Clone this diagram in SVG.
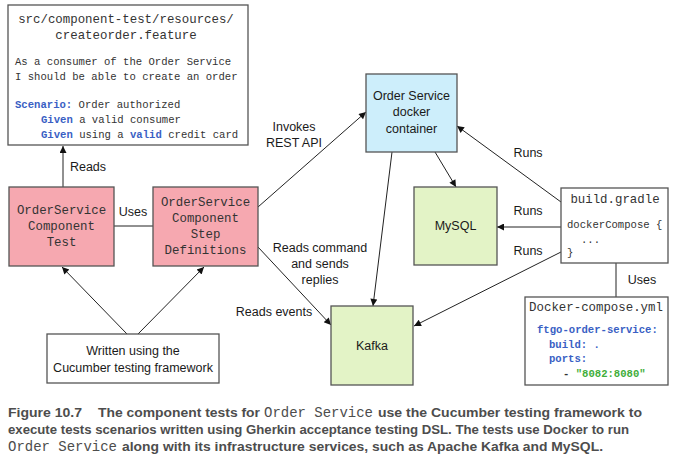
<svg xmlns="http://www.w3.org/2000/svg" width="691" height="472" viewBox="0 0 691 472">
<style>
.box{stroke:#555;stroke-width:1.3}
.w{fill:#fff}
.pink{fill:#f6a8b0}
.blue{fill:#cdeefb}
.green{fill:#e3f3c6}
.sans{font-family:"Liberation Sans",Arial,sans-serif;font-size:12.5px;fill:#1a1a1a}
.mono{font-family:"Liberation Mono","Courier New",monospace;font-size:12.4px;fill:#333}
.code{font-family:"Liberation Mono","Courier New",monospace;font-size:10.6px;fill:#333}
.kw{font-weight:bold;fill:#3a5fc4}
.str{font-weight:bold;fill:#3fae3a}
.mid{text-anchor:middle}
.line{stroke:#222;stroke-width:1;fill:none}
.arr{marker-end:url(#ah)}
.cap{font-family:"Liberation Sans",Arial,sans-serif;font-weight:bold;font-size:13.6px;fill:#4d4d4d}
.capm{font-family:"Liberation Mono","Courier New",monospace;font-size:14px;fill:#4d4d4d}
</style>
<defs>
<marker id="ah" viewBox="0 0 10 10" refX="10" refY="5" markerWidth="9" markerHeight="7" markerUnits="userSpaceOnUse" orient="auto">
<path d="M0,0 L10,5 L0,10 z" fill="#111"/>
</marker>
</defs>
<rect width="691" height="472" fill="#fff"/>

<g id="connectors">
<line class="line arr" x1="63" y1="187" x2="63" y2="146"/>
<line class="line" x1="114" y1="226" x2="153" y2="226"/>
<line class="line arr" x1="127" y1="334" x2="62" y2="267"/>
<line class="line arr" x1="138" y1="334" x2="204" y2="267"/>
<line class="line arr" x1="258" y1="207" x2="366" y2="112"/>
<line class="line arr" x1="258" y1="247" x2="331" y2="325"/>
<line class="line arr" x1="392" y1="152" x2="373" y2="306"/>
<line class="line arr" x1="435" y1="152" x2="456" y2="187"/>
<line class="line arr" x1="561" y1="202" x2="457" y2="126"/>
<line class="line arr" x1="561" y1="227" x2="497" y2="227"/>
<line class="line arr" x1="561" y1="252" x2="414" y2="326"/>
<line class="line" x1="616" y1="263" x2="616" y2="297"/>
<text class="sans mid" x="88" y="171">Reads</text>
<text class="sans mid" x="133" y="216">Uses</text>
<text class="sans mid" x="294" y="131">Invokes</text>
<text class="sans mid" x="294" y="147">REST API</text>
<text class="sans mid" x="320" y="252">Reads command</text>
<text class="sans mid" x="320" y="268">and sends</text>
<text class="sans mid" x="320" y="284">replies</text>
<text class="sans mid" x="274" y="316">Reads events</text>
<text class="sans mid" x="528" y="157">Runs</text>
<text class="sans mid" x="528" y="215">Runs</text>
<text class="sans mid" x="528" y="255">Runs</text>
<text class="sans mid" x="642" y="284">Uses</text>
</g>

<g id="feature">
<rect class="box w" x="8" y="5" width="240" height="140"/>
<text class="mono mid" x="126" y="23">src/component-test/resources/</text>
<text class="mono mid" x="126" y="39">createorder.feature</text>
<text class="code" x="15" y="65">As a consumer of the Order Service</text>
<text class="code" x="15" y="80">I should be able to create an order</text>
<text class="code" x="15" y="108"><tspan class="kw">Scenario:</tspan> Order authorized</text>
<text class="code" x="41" y="123"><tspan class="kw">Given</tspan> a valid consumer</text>
<text class="code" x="41" y="138"><tspan class="kw">Given</tspan> using a <tspan class="kw">valid</tspan> credit card</text>
</g>

<g id="component-test">
<rect class="box pink" x="9" y="187" width="105" height="79"/>
<text class="mono mid" x="61.5" y="214">OrderService</text>
<text class="mono mid" x="61.5" y="230">Component</text>
<text class="mono mid" x="61.5" y="246">Test</text>
</g>

<g id="step-definitions">
<rect class="box pink" x="153" y="187" width="105" height="79"/>
<text class="mono mid" x="205.5" y="206">OrderService</text>
<text class="mono mid" x="205.5" y="222">Component</text>
<text class="mono mid" x="205.5" y="238">Step</text>
<text class="mono mid" x="205.5" y="254">Definitions</text>
</g>

<g id="cucumber">
<rect class="box w" x="47" y="334" width="172" height="49"/>
<text class="sans mid" x="133" y="355">Written using the</text>
<text class="sans mid" x="133" y="372">Cucumber testing framework</text>
</g>

<g id="order-service-container">
<rect class="box blue" x="366" y="74" width="91" height="78"/>
<text class="sans mid" x="411.5" y="100">Order Service</text>
<text class="sans mid" x="411.5" y="116">docker</text>
<text class="sans mid" x="411.5" y="133">container</text>
</g>

<g id="mysql">
<rect class="box green" x="414" y="187" width="83" height="78"/>
<text class="sans mid" x="455.5" y="230">MySQL</text>
</g>

<g id="kafka">
<rect class="box green" x="331" y="306" width="82" height="79"/>
<text class="sans mid" x="372" y="350">Kafka</text>
</g>

<g id="build-gradle">
<rect class="box w" x="561" y="188" width="107" height="75"/>
<text class="mono mid" x="615" y="203">build.gradle</text>
<text class="code" x="567" y="228">dockerCompose {</text>
<text class="code" x="581" y="243">...</text>
<text class="code" x="567" y="256">}</text>
</g>

<g id="docker-compose">
<rect class="box w" x="525" y="297" width="143" height="88"/>
<text class="mono mid" x="596" y="311">Docker-compose.yml</text>
<text class="code kw" x="537" y="333">ftgo-order-service:</text>
<text class="code kw" x="549" y="348">build: .</text>
<text class="code kw" x="549" y="362">ports:</text>
<text class="code" x="563" y="377"><tspan font-weight="bold">-</tspan> <tspan class="str">"8082:8080"</tspan></text>
</g>

<g id="caption">
<text class="cap" x="8" y="417" textLength="74" lengthAdjust="spacingAndGlyphs">Figure 10.7</text>
<text class="cap" x="98" y="417" textLength="162" lengthAdjust="spacingAndGlyphs">The component tests for</text>
<text class="capm" x="264" y="417" textLength="109" lengthAdjust="spacingAndGlyphs">Order Service</text>
<text class="cap" x="378" y="417" textLength="264" lengthAdjust="spacingAndGlyphs">use the Cucumber testing framework to</text>
<text class="cap" x="8" y="434" textLength="621" lengthAdjust="spacingAndGlyphs">execute tests scenarios written using Gherkin acceptance testing DSL. The tests use Docker to run</text>
<text class="capm" x="8" y="451" textLength="109" lengthAdjust="spacingAndGlyphs">Order Service</text>
<text class="cap" x="122" y="451" textLength="481" lengthAdjust="spacingAndGlyphs">along with its infrastructure services, such as Apache Kafka and MySQL.</text>
</g>
</svg>
